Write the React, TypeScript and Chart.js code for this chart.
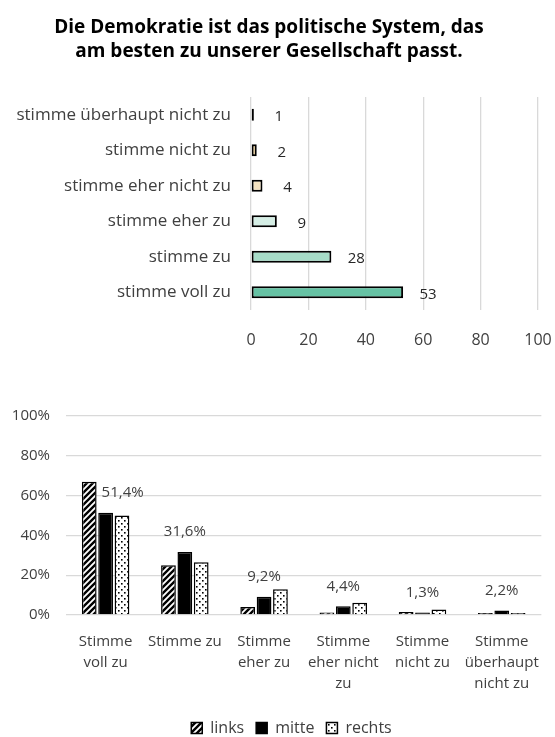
import React, { useEffect, useRef } from "react";
import { Chart, registerables } from "chart.js";

Chart.register(...registerables);

const FONT = "'Open Sans', 'Noto Sans', sans-serif";

const TITLE_LINES = [
  "Die Demokratie ist das politische System, das",
  "am besten zu unserer Gesellschaft passt.",
];
const TOP_CATEGORIES = [
  "stimme überhaupt nicht zu",
  "stimme nicht zu",
  "stimme eher nicht zu",
  "stimme eher zu",
  "stimme zu",
  "stimme voll zu",
];
const TOP_VALUES = [1, 2, 4, 9, 28, 53];
const TOP_COLORS = ["#c9a45a", "#e6c78a", "#f4e2c0", "#d5eee5", "#a6dbc7", "#66c2a4"];
const TOP_TICKS = [0, 20, 40, 60, 80, 100];

const BOTTOM_CATEGORIES = [
  ["Stimme", "voll zu"],
  ["Stimme zu"],
  ["Stimme", "eher zu"],
  ["Stimme", "eher nicht", "zu"],
  ["Stimme", "nicht zu"],
  ["Stimme", "überhaupt", "nicht zu"],
];
const SERIES_NAMES = ["links", "mitte", "rechts"];
const LINKS = [67, 25, 4, 1.2, 1.5, 1];
const MITTE = [51.4, 31.6, 9.2, 4.4, 1.3, 2.2];
const RECHTS = [50, 26.5, 13, 6.2, 2.8, 1];
const BOTTOM_TICKS = [0, 20, 40, 60, 80, 100];

function stripePattern(): CanvasPattern | string {
  const c = document.createElement("canvas");
  c.width = 6;
  c.height = 6;
  const g = c.getContext("2d");
  if (!g) return "#000";
  g.fillStyle = "#fff";
  g.fillRect(0, 0, 6, 6);
  g.strokeStyle = "#000";
  g.lineWidth = 2.4;
  g.beginPath();
  g.moveTo(-3, 3);
  g.lineTo(3, -3);
  g.moveTo(0, 6);
  g.lineTo(6, 0);
  g.moveTo(3, 9);
  g.lineTo(9, 3);
  g.stroke();
  return g.createPattern(c, "repeat") || "#000";
}

function dotPattern(): CanvasPattern | string {
  const c = document.createElement("canvas");
  c.width = 6;
  c.height = 6;
  const g = c.getContext("2d");
  if (!g) return "#fff";
  g.fillStyle = "#fff";
  g.fillRect(0, 0, 6, 6);
  g.fillStyle = "#000";
  g.fillRect(1, 1, 1.6, 1.6);
  g.fillRect(4, 4, 1.6, 1.6);
  return g.createPattern(c, "repeat") || "#fff";
}

const topLabelPlugin = {
  id: "topLabels",
  afterDatasetsDraw(chart: any) {
    const ctx = chart.ctx;
    const meta = chart.getDatasetMeta(0);
    ctx.save();
    ctx.font = `15px ${FONT}`;
    ctx.fillStyle = "#262626";
    ctx.textAlign = "center";
    ctx.textBaseline = "middle";
    meta.data.forEach((bar: any, i: number) => {
      ctx.fillText(String(TOP_VALUES[i]), bar.x + 25, bar.y + 2);
    });
    ctx.restore();
  },
};

const bottomLabelPlugin = {
  id: "bottomLabels",
  afterLayout(chart: any) {
    const l = chart.legend;
    if (l) {
      l.left += 15;
      l.right += 15;
    }
  },
  afterDatasetsDraw(chart: any) {
    const ctx = chart.ctx;
    const metaL = chart.getDatasetMeta(0);
    const metaM = chart.getDatasetMeta(1);
    ctx.save();
    ctx.font = `15px ${FONT}`;
    ctx.fillStyle = "#404040";
    ctx.textAlign = "center";
    ctx.textBaseline = "middle";
    metaM.data.forEach((bar: any, i: number) => {
      const text = MITTE[i].toFixed(1).replace(".", ",") + "%";
      const w = ctx.measureText(text).width;
      let x = bar.x;
      const y = bar.y - 20;
      const lb = metaL.data[i];
      if (lb && lb.y < y + 9) {
        x = lb.x + lb.width / 2 + 5 + w / 2;
      }
      ctx.fillText(text, x, y);
    });
    ctx.restore();
  },
};

function TopChart() {
  const ref = useRef<HTMLCanvasElement>(null);
  useEffect(() => {
    if (!ref.current) return;
    const chart = new Chart(ref.current, {
      type: "bar",
      data: {
        labels: TOP_CATEGORIES,
        datasets: [
          {
            data: TOP_VALUES,
            backgroundColor: TOP_COLORS,
            borderColor: "#000",
            borderWidth: 2,
            borderSkipped: false,
            barPercentage: 0.34,
            categoryPercentage: 1,
          },
        ],
      },
      options: {
        indexAxis: "y",
        animation: false,
        responsive: false,
        layout: { padding: { left: 0, right: 17, top: 0, bottom: 14 } },
        plugins: {
          legend: { display: false },
          tooltip: { enabled: false },
          title: {
            display: true,
            text: TITLE_LINES,
            color: "#000",
            font: { family: FONT, size: 19, weight: "bold", lineHeight: 24 / 19 },
            padding: { top: 16, bottom: 33 },
          },
        },
        scales: {
          x: {
            min: 0,
            max: 100,
            afterBuildTicks: (s: any) => {
              s.ticks = TOP_TICKS.map((v) => ({ value: v }));
            },
            ticks: { font: { family: FONT, size: 16 }, color: "#404040", padding: 21 },
            grid: { color: "#d9d9d9", lineWidth: 1.3, drawTicks: false },
            border: { display: false },
            afterFit: (s: any) => {
              s.height = 36;
              s.paddingLeft = 0;
              s.paddingRight = 0;
            },
          },
          y: {
            ticks: { font: { family: FONT, size: 17 }, color: "#404040", padding: 20 },
            grid: { display: false, drawTicks: false },
            border: { display: false },
            afterFit: (s: any) => {
              s.width = 251;
            },
          },
        },
      } as any,
      plugins: [topLabelPlugin],
    });
    return () => chart.destroy();
  }, []);
  return <canvas ref={ref} width={555} height={360} style={{ position: "absolute", left: 0, top: 0 }} />;
}

function BottomChart() {
  const ref = useRef<HTMLCanvasElement>(null);
  useEffect(() => {
    if (!ref.current) return;
    const stripes = stripePattern();
    const dots = dotPattern();
    const chart = new Chart(ref.current, {
      type: "bar",
      data: {
        labels: BOTTOM_CATEGORIES,
        datasets: [
          { label: SERIES_NAMES[0], data: LINKS, backgroundColor: stripes, borderColor: "#000", borderWidth: 1.5 },
          { label: SERIES_NAMES[1], data: MITTE, backgroundColor: "#000", borderColor: "#000", borderWidth: 1.5 },
          { label: SERIES_NAMES[2], data: RECHTS, backgroundColor: dots, borderColor: "#000", borderWidth: 1.5 },
        ],
      },
      options: {
        animation: false,
        responsive: false,
        datasets: { bar: { categoryPercentage: 0.62, barPercentage: 0.9 } },
        layout: { padding: { left: 0, right: 2, top: 56, bottom: 2 } },
        plugins: {
          tooltip: { enabled: false },
          legend: {
            position: "bottom",
            labels: {
              boxWidth: 11,
              boxHeight: 11,
              color: "#404040",
              font: { family: FONT, size: 16 },
              padding: 12,
            },
          },
        },
        scales: {
          x: {
            grid: { display: false, drawTicks: false },
            border: { display: false },
            ticks: {
              font: { family: FONT, size: 15, lineHeight: 1.4 },
              color: "#404040",
              padding: 16,
              maxRotation: 0,
              autoSkip: false,
            },
            afterFit: (s: any) => {
              s.height = 93;
            },
          },
          y: {
            min: 0,
            max: 100,
            afterBuildTicks: (s: any) => {
              s.ticks = BOTTOM_TICKS.map((v) => ({ value: v }));
            },
            ticks: {
              font: { family: FONT, size: 15 },
              color: "#404040",
              padding: 16,
              callback: (v: any) => v + "%",
            },
            grid: { color: "#d9d9d9", lineWidth: 1.3, drawTicks: false },
            border: { display: false },
            afterFit: (s: any) => {
              s.width = 66;
            },
          },
        },
      } as any,
      plugins: [bottomLabelPlugin],
    });
    return () => chart.destroy();
  }, []);
  return <canvas ref={ref} width={555} height={388} style={{ position: "absolute", left: 0, top: 360 }} />;
}

export default function App() {
  return (
    <div
      style={{
        position: "absolute",
        left: 0,
        top: 0,
        width: 555,
        height: 737,
        overflow: "hidden",
        background: "#fff",
      }}
    >
      <TopChart />
      <BottomChart />
    </div>
  );
}
